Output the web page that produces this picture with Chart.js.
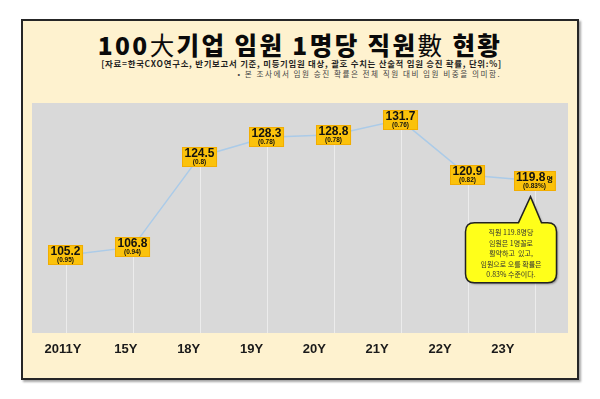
<!DOCTYPE html>
<html><head><meta charset="utf-8">
<script src="https://cdn.jsdelivr.net/npm/chart.js@4"></script>
<style>
html,body{margin:0;padding:0;background:#fff;width:600px;height:399px;overflow:hidden;}
#frame{position:absolute;left:21px;top:19px;width:558px;height:361px;box-sizing:border-box;border:2px solid #262626;background:#fef2cf;box-shadow:2px 2px 2px rgba(0,0,0,0.35);}
#title{position:absolute;left:0;width:600px;top:30px;height:30px;line-height:30px;text-align:center;font-family:"Noto Sans CJK KR";font-weight:900;font-size:24.5px;letter-spacing:2.4px;color:#0a0a0a;white-space:nowrap;}
#title .h{font-weight:400;}
#sub1{position:absolute;right:98px;top:57px;line-height:12px;font-family:"Noto Sans CJK KR";font-weight:700;font-size:8.4px;color:#1e1e1e;white-space:nowrap;letter-spacing:0.75px;}
#sub2{position:absolute;right:99px;top:68px;line-height:11px;font-family:"Noto Sans CJK KR";font-weight:400;font-size:7.6px;color:#444;white-space:nowrap;letter-spacing:1.5px;}
#c{position:absolute;left:0;top:0;}
</style></head>
<body>
<div id="frame"></div>
<div id="title">100<span class="h">大</span>기업 임원 1명당 직원<span class="h">數</span> 현황</div>
<div id="sub1">[자료=한국CXO연구소, 반기보고서 기준, 미등기임원 대상, 괄호 수치는 산술적 임원 승진 확률, 단위:%]</div>
<div id="sub2">• 본 조사에서 임원 승진 확률은 전체 직원 대비 임원 비중을 의미함.</div>
<canvas id="c" width="600" height="399"></canvas>
<script>
const categories = ["2011Y","15Y","18Y","19Y","20Y","21Y","22Y","23Y"];
const staffPerExec = [105.2,106.8,124.5,128.3,128.8,131.7,120.9,119.8];
const promotionRate = ["(0.95)","(0.94)","(0.8)","(0.78)","(0.78)","(0.76)","(0.82)","(0.83%)"];
const valueSuffix = ["","","","","","","","명"];
const calloutLines = ["직원 119.8명당","임원은 1명꼴로","활약하고  있고,","임원으로 오를 확률은","0.83% 수준이다."];

const bgPlugin = {
  id:'bg',
  beforeDraw(chart){
    const {ctx, chartArea:a} = chart;
    ctx.save();
    ctx.fillStyle = '#d9d9d9';
    ctx.fillRect(a.left, a.top, a.right-a.left, a.bottom-a.top);
    ctx.restore();
  },
  beforeDatasetsDraw(chart){
    const {ctx, chartArea:a} = chart;
    const meta = chart.getDatasetMeta(0);
    ctx.save();
    ctx.strokeStyle = '#ececec';
    ctx.lineWidth = 1;
    meta.data.forEach(p=>{
      const x = Math.round(p.x)+0.5;
      ctx.beginPath(); ctx.moveTo(x, p.y); ctx.lineTo(x, a.bottom); ctx.stroke();
    });
    ctx.restore();
  }
};

const labelPlugin = {
  id:'lbl',
  afterDatasetsDraw(chart){
    const {ctx} = chart;
    const meta = chart.getDatasetMeta(0);
    ctx.save();
    meta.data.forEach((p,i)=>{
      const val = staffPerExec[i].toFixed(1);
      const suf = valueSuffix[i];
      ctx.font = 'bold 12px "Liberation Sans"';
      const w1 = ctx.measureText(val).width;
      ctx.font = 'bold 7px "Noto Sans CJK KR"';
      const ws = suf ? ctx.measureText(suf).width + 1 : 0;
      const w = Math.max(w1 + ws + 5, 31);
      const h = 20;
      const x0 = Math.round(p.x - w/2), y0 = Math.round(p.y - h/2);
      ctx.fillStyle = '#fbc20c';
      ctx.fillRect(x0, y0, w, h);
      ctx.strokeStyle = '#f2ad00';
      ctx.lineWidth = 1;
      ctx.strokeRect(x0+0.5, y0+0.5, w-1, h-1);
      ctx.fillStyle = '#111';
      ctx.textBaseline = 'middle';
      ctx.textAlign = 'left';
      const tx = p.x - (w1+ws)/2;
      ctx.font = 'bold 12px "Liberation Sans"';
      ctx.fillText(val, tx, y0+7);
      if (suf){
        ctx.font = 'bold 7px "Noto Sans CJK KR"';
        ctx.fillText(suf, tx + w1 + 1, y0+8);
      }
      ctx.textAlign = 'center';
      ctx.font = 'bold 6.5px "Liberation Sans"';
      ctx.fillText(promotionRate[i], p.x, y0+15.5);
    });
    ctx.restore();
  },
  afterDraw(chart){
    const {ctx} = chart;
    const meta = chart.getDatasetMeta(0);
    const p = meta.data[meta.data.length-1];
    const L = p.x - 69, R = p.x + 22, T = p.y + 42, B = p.y + 102, r = 9;
    const tipX = p.x - 4, tipY = p.y + 16;
    const b1 = p.x - 16, b2 = p.x + 7;
    ctx.save();
    ctx.beginPath();
    ctx.moveTo(L + r, T);
    ctx.lineTo(b1, T);
    ctx.lineTo(tipX, tipY);
    ctx.lineTo(b2, T);
    ctx.lineTo(R - r, T);
    ctx.quadraticCurveTo(R, T, R, T + r);
    ctx.lineTo(R, B - r);
    ctx.quadraticCurveTo(R, B, R - r, B);
    ctx.lineTo(L + r, B);
    ctx.quadraticCurveTo(L, B, L, B - r);
    ctx.lineTo(L, T + r);
    ctx.quadraticCurveTo(L, T, L + r, T);
    ctx.closePath();
    ctx.shadowColor = 'rgba(0,0,0,0.35)';
    ctx.shadowOffsetX = 1.5; ctx.shadowOffsetY = 1.5; ctx.shadowBlur = 2;
    ctx.fillStyle = '#ffff1a';
    ctx.fill();
    ctx.shadowColor = 'transparent';
    ctx.strokeStyle = '#222';
    ctx.lineWidth = 1.5;
    ctx.stroke();
    ctx.fillStyle = '#333';
    ctx.textAlign = 'center';
    ctx.textBaseline = 'middle';
    ctx.font = '7px "Noto Sans CJK KR"';
    const cx = (L + R)/2;
    calloutLines.forEach((t,k)=>{ ctx.fillText(t, cx, T + 10 + k*10.5); });
    ctx.restore();
  }
};

new Chart(document.getElementById('c'), {
  type:'line',
  data:{
    labels: categories,
    datasets:[{
      data: staffPerExec,
      borderColor:'#abcbe8',
      borderWidth:1.5,
      pointRadius:0,
      tension:0,
      xAxisID:'x', yAxisID:'y'
    }]
  },
  options:{
    responsive:false,
    animation:false,
    layout:{padding:{left:32,right:32,top:103,bottom:33}},
    plugins:{legend:{display:false},tooltip:{enabled:false}},
    scales:{
      x:{type:'category', offset:true, display:false},
      y:{display:false, min:90, max:135},
      x2:{
        type:'linear', position:'bottom', min:-0.494, max:8.037,
        grid:{display:false, drawTicks:false}, border:{display:false},
        afterBuildTicks(s){ s.ticks = categories.map((_,i)=>({value:i})); },
        afterFit(s){ s.height = 33; },
        ticks:{
          autoSkip:false, maxRotation:0, padding:9, color:'#1a1a1a',
          font:{family:'"Liberation Sans"', weight:'bold', size:13},
          callback:(v)=>categories[v]
        }
      }
    }
  },
  plugins:[bgPlugin, labelPlugin]
});
</script>
</body></html>
